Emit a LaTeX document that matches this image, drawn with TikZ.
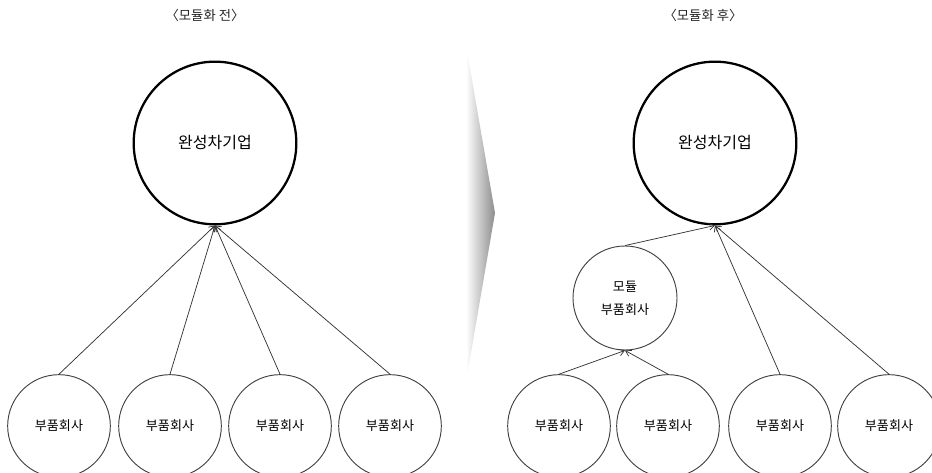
\documentclass[tikz,border=0pt]{standalone}
\usepackage{fontspec}
\setmainfont{Noto Sans CJK KR}
\usetikzlibrary{arrows.meta}
\begin{document}
\begin{tikzpicture}[x=0.75pt,y=-0.75pt,
  bigc/.style={circle,draw=black,line width=1.7pt,minimum size=122pt,inner sep=0pt,font=\fontsize{12}{14}\selectfont},
  smallc/.style={circle,draw=black!75,line width=0.7pt,minimum size=77pt,inner sep=0pt,font=\fontsize{9.8}{12}\selectfont},
  modc/.style={circle,draw=black!75,line width=0.7pt,minimum size=78pt,inner sep=0pt,align=center,font=\fontsize{9.8}{17.5}\selectfont},
  ttl/.style={font=\fontsize{10}{12}\selectfont,text=black!85},
  arr/.style={draw=black!80,line width=0.55pt,-{Straight Barb[length=4pt,width=5pt]}}]
\useasboundingbox (0,0) rectangle (932,473);
% titles
\node[ttl] (t1) at (205,15) {〈모듈화 전〉};
\node[ttl] (t2) at (703,15) {〈모듈화 후〉};
% gray arrow
\shade[left color=white,right color=black!45] (466,45) -- (495,213) -- (466,382) -- cycle;
% left side
\node[bigc] (L) at (215,143) {완성차기업};
\node[smallc] (l1) at (59,426) {부품회사};
\node[smallc] (l2) at (170,426) {부품회사};
\node[smallc] (l3) at (280,426) {부품회사};
\node[smallc] (l4) at (390,426) {부품회사};
\foreach \n in {l1,l2,l3,l4} \draw[arr] (\n.north) -- (L.south);
% right side
\node[bigc] (R) at (715,143) {완성차기업};
\node[modc] (m) at (625,298) {모듈\\부품회사};
\node[smallc] (r1) at (559,426) {부품회사};
\node[smallc] (r2) at (668,426) {부품회사};
\node[smallc] (r3) at (780,426) {부품회사};
\node[smallc] (r4) at (889,426) {부품회사};
\draw[arr] (r1.north) -- (m.south);
\draw[arr] (r2.north) -- (m.south);
\draw[arr] (m.north) -- (R.south);
\draw[arr] (r3.north) -- (R.south);
\draw[arr] (r4.north) -- (R.south);
\end{tikzpicture}
\end{document}
